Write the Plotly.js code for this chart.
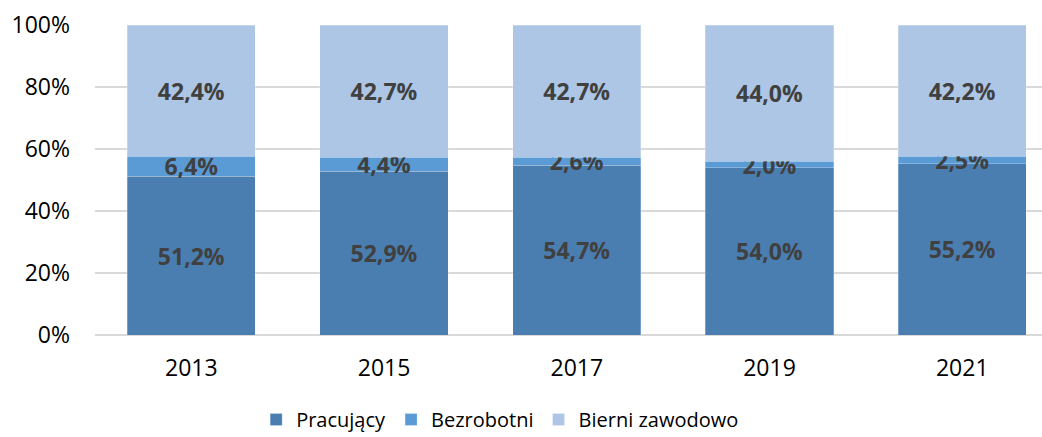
<!DOCTYPE html>
<html><head><meta charset="utf-8">
<script src="https://cdn.plot.ly/plotly-3.0.1.min.js"></script>
<style>html,body{margin:0;padding:0;background:#fff}#chart{width:1042px;height:437px}</style>
</head><body><div id="chart"></div>
<script>
const years = ['2013','2015','2017','2019','2021'];
const pracujacy = [51.2, 52.9, 54.7, 54.0, 55.2];
const bezrobotni = [6.4, 4.4, 2.6, 2.0, 2.5];
const bierni = [42.4, 42.7, 42.7, 44.0, 42.2];
const seriesNames = ['Pracujący','Bezrobotni','Bierni zawodowo'];
const colors = ['#4A7EB0','#5B9BD5','#ADC6E5'];
const fmt = v => v.toFixed(1).replace('.', ',') + '%';
const allSeries = [pracujacy, bezrobotni, bierni];
const traces = allSeries.map((vals, i) => ({
  type: 'bar',
  name: seriesNames[i],
  x: years,
  y: vals,
  text: vals.map(fmt),
  textposition: 'inside',
  insidetextanchor: 'middle',
  constraintext: 'none',
  textangle: 0,
  textfont: {family: 'Open Sans', size: 23, color: '#404040', weight: 'bold'},
  marker: {color: colors[i], line: {color: 'rgba(255,255,255,0.5)', width: 0.5}},
  hoverinfo: 'skip'
}));
const layout = {
  barmode: 'stack',
  bargap: 0.335,
  width: 1042, height: 437,
  margin: {l: 95, r: 0, t: 25, b: 102},
  paper_bgcolor: '#fff', plot_bgcolor: '#fff',
  font: {family: 'Open Sans', color: '#000'},
  xaxis: {type: 'category', range: [-0.5, 4.414], showgrid: false, zeroline: false,
          showline: false, ticks: '', ticklabelstandoff: 17, tickfont: {size: 23, color: '#000'}, fixedrange: true},
  yaxis: {range: [0, 100], dtick: 20, ticksuffix: '%', showgrid: true, gridcolor: '#D9D9D9',
          gridwidth: 1.5, zeroline: true, zerolinecolor: '#D9D9D9', zerolinewidth: 1.5, showline: false,
          ticks: '', ticklabelstandoff: 24, tickfont: {size: 23, color: '#000'}, fixedrange: true},
  showlegend: true,
  legend: {orientation: 'h', xref: 'container', x: 0.48, xanchor: 'center', yref: 'container', y: 0.04, yanchor: 'middle',
           font: {size: 20, color: '#000'}, traceorder: 'normal', itemclick: false},
};
Plotly.newPlot('chart', traces, layout, {displayModeBar: false, staticPlot: true});
</script></body></html>
